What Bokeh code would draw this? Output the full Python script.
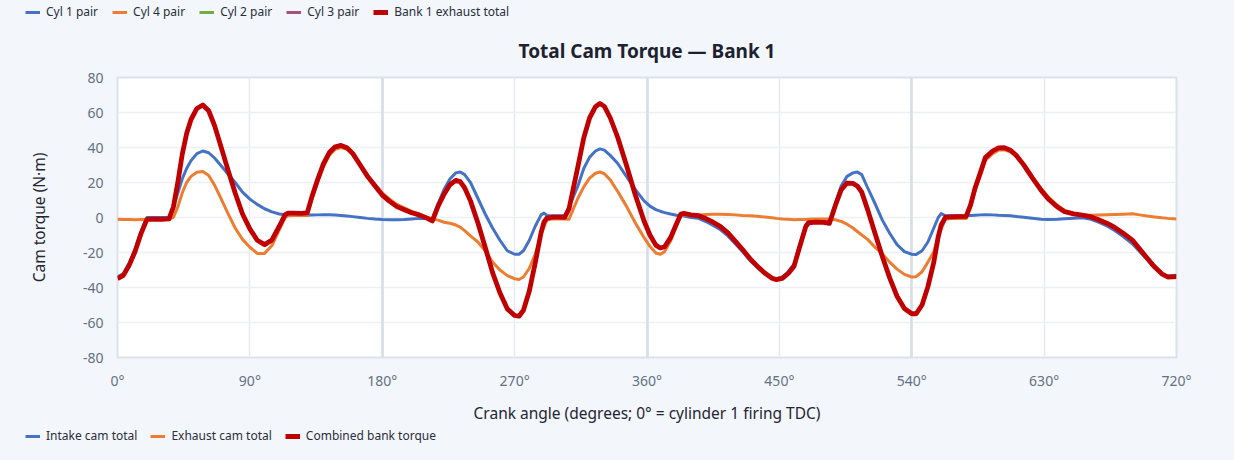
from bokeh.plotting import figure
from bokeh.layouts import column
from bokeh.models import (Range1d, FixedTicker, PrintfTickFormatter, Legend, LegendItem,
                          Grid, Title)
from bokeh.embed import file_html
from bokeh.resources import INLINE

FONT = "Noto Sans"

crank_deg = [0, 4, 8, 12, 16, 20, 25, 30, 35, 38, 41, 44, 47, 50, 54, 58, 62, 66, 70, 75,
             80, 85, 90, 95, 100, 105, 110, 114, 116, 120, 125, 129, 132, 136, 140, 144, 148,
             152, 156, 160, 165, 170, 175, 180, 185, 190, 195, 200, 205, 210, 214, 218, 222,
             226, 230, 233, 236, 240, 245, 250, 255, 260, 265, 270, 273, 276, 280, 284, 288,
             290, 292, 296, 300, 304, 307, 310, 313, 317, 321, 325, 328, 331, 335, 340, 346,
             352, 358, 362, 366, 369, 372, 376, 380, 383, 385, 390, 395, 400, 405, 410, 415,
             420, 425, 430, 435, 440, 445, 448, 452, 456, 460, 464, 468, 470, 475, 480, 484,
             488, 492, 496, 500, 503, 506, 510, 515, 520, 525, 530, 535, 540, 543, 547, 551,
             555, 558, 560, 563, 570, 577, 580, 583, 587, 590, 595, 599, 603, 607, 611, 616,
             622, 628, 633, 639, 644, 650, 656, 662, 667, 673, 678, 684, 690, 695, 700, 705,
             710, 714, 720]

intake_total = [-34, -32, -26, -18, -8, 0, 0, 0, 0, 6, 14, 22, 28, 32.5, 36.5, 38, 37, 34, 30, 25,
                20, 14.5, 10.5, 7.5, 5, 3.2, 2, 1.6, 1.5, 1.3, 1.2, 1.3, 1.4, 1.5, 1.6, 1.6, 1.4,
                1.2, 0.9, 0.5, 0, -0.5, -0.9, -1.2, -1.3, -1.3, -1.1, -0.8, -0.5, -0.5, -1.2, 8, 16,
                22, 25.5, 26, 24.5, 20, 11, 2, -6, -13, -19, -21, -21, -19, -13, -5, 1.5,
                2.5, 1.2, 1, 1, 1, 6, 12, 18, 28, 34.5, 38, 39.2, 38.5, 35.5, 31, 23.5,
                16, 9.5, 6.5, 4.5, 3.6, 2.8, 2, 1.3, 1, 0.8, 0, -0.5, -2.3, -4.5, -7, -10.5,
                -15, -19.5, -24.5, -28.5, -32, -34.5, -35, -34, -31, -26.5, -15, -4, -2, -1.8, -2, -2.5,
                8, 18, 23.5, 25.5, 26, 24.5, 17, 8, -1.5, -9, -15.5, -19.5, -21, -21.2, -19, -14,
                -6, 0, 2.2, 1, 1, 1.1, 1.2, 1.3, 1.5, 1.6, 1.5, 1.3, 1.2, 1, 0.6, 0.2,
                -0.4, -1, -1.2, -1, -0.7, -0.4, -0.2, -1, -2.7, -5, -7.4, -11, -15, -19.5, -24, -28.5,
                -32, -33.5, -33]

exhaust_total = [-1, -1.1, -1.2, -1.3, -1.2, -1.1, -1, -1, -0.8, 0, 6, 14, 20, 23.5, 25.8, 26.3, 24, 18.5, 11.5, 2.5,
                 -6, -12.5, -17, -20.5, -20.5, -16, -7, 0, 1, 1.2, 1.2, 1.3, 10, 20, 29, 35.5, 39,
                 40, 39, 36, 30, 24, 19, 14, 10.5, 7.5, 5.5, 3.5, 2, 0.3, -0.8, -1.5, -2.7,
                 -3.3, -4.3, -5.5, -7.5, -10.5, -14, -19, -25.5, -30, -33.2, -35, -35.4, -34, -29, -21, -10,
                 -5, -1.5, -0.8, -0.8, -0.9, -1, 5, 11, 17.5, 22.5, 25.3, 26, 25, 21.5, 15, 6.5,
                 -3, -11.5, -16.5, -20.3, -21, -19.5, -13.5, -5, 1, 1.5, 1.5, 1.5, 1.7, 1.8, 1.8, 1.7,
                 1.5, 1.2, 1, 0.7, 0.3, -0.2, -0.5, -0.8, -1, -1.3, -1.2, -1.1, -1, -0.9, -0.8, -0.9,
                 -1.3, -2.2, -3.8, -6, -8, -10, -12.5, -17, -20.8, -25.5, -29.5, -32.5, -34, -33.8, -31, -25.5,
                 -19.5, -11, -6.5, -0.8, -0.5, -0.5, 6, 15.4, 25, 32.6, 36.5, 38.5, 38.7, 37.5, 35, 30,
                 23, 16.5, 11.6, 7, 4, 2.5, 1.5, 1.3, 1.4, 1.6, 1.7, 1.9, 2.1, 1.5, 0.8, 0.3,
                 -0.2, -0.5, -0.8]

combined_bank = [-35, -33.1, -27.2, -19.3, -9.2, -1.1, -1, -1, -0.8, 6, 20, 36, 48, 56, 62.3, 64.3, 61, 52.5, 41.5, 27.5,
                 14, 2, -6.5, -13, -15.5, -12.8, -5, 1.6, 2.5, 2.5, 2.4, 2.6, 11.4, 21.5, 30.6, 37.1, 40.4,
                 41.2, 39.9, 36.5, 30, 23.5, 18.1, 12.8, 9.2, 6.2, 4.4, 2.7, 1.5, -0.2, -2, 6.5, 13.3,
                 18.7, 21.2, 20.5, 17, 9.5, -3, -17, -31.5, -43, -52.2, -56, -56.4, -53, -42, -26, -8.5,
                 -2.5, -0.3, 0.2, 0.2, 0.1, 5, 17, 29, 45.5, 57, 63.3, 65.2, 63.5, 57, 46, 30,
                 13, -2, -10, -15.8, -17.4, -16.7, -11.5, -3.7, 2, 2.3, 1.5, 1, -0.6, -2.7, -5.2, -8.8,
                 -13.5, -18.3, -23.5, -27.8, -31.7, -34.7, -35.5, -34.8, -32, -27.8, -16.2, -5.1, -3, -2.7, -2.8, -3.4,
                 6.7, 15.8, 19.7, 19.5, 18, 14.5, 4.5, -9, -22.3, -34.5, -45, -52, -55, -55, -50, -39.5,
                 -25.5, -11, -4.3, 0.2, 0.5, 0.6, 7.2, 16.7, 26.5, 34.2, 38, 39.8, 39.9, 38.5, 35.6, 30.2,
                 22.6, 15.5, 10.4, 6, 3.3, 2.1, 1.3, 0.3, -1.3, -3.4, -5.7, -9.1, -12.9, -18, -23.2, -28.2,
                 -32.2, -34, -33.8]

x_ticks = [0, 90, 180, 270, 360, 450, 540, 630, 720]
x_major_lines = [180, 360, 540]
y_ticks = [-80, -60, -40, -20, 0, 20, 40, 60, 80]

top_legend_labels = ["Cyl 1 pair", "Cyl 4 pair", "Cyl 2 pair", "Cyl 3 pair", "Bank 1 exhaust total"]
top_legend_colors = ["#4472C4", "#ED7D31", "#70AD47", "#A5507D", "#C00000"]
bottom_legend_labels = ["Intake cam total", "Exhaust cam total", "Combined bank torque"]
bottom_legend_colors = ["#4472C4", "#ED7D31", "#C00000"]

BG = "#f3f6fa"
W = 1234

# ---------------- main chart ----------------
p = figure(width=W, height=406, output_backend="svg", toolbar_location=None,
           x_range=Range1d(0, 720), y_range=Range1d(-80, 80),
           min_border_left=117, min_border_right=58, min_border_top=57, min_border_bottom=69,
           title=None)
p.border_fill_color = BG
p.background_fill_color = "white"
p.outline_line_color = "#dbe2eb"
p.outline_line_width = 2

p.xaxis.ticker = FixedTicker(ticks=x_ticks)
p.xaxis.formatter = PrintfTickFormatter(format="%d\u00b0")
p.yaxis.ticker = FixedTicker(ticks=y_ticks)
p.yaxis.formatter = PrintfTickFormatter(format="%d")
for ax in (p.xaxis[0], p.yaxis[0]):
    ax.axis_line_color = None
    ax.major_tick_line_color = None
    ax.minor_tick_line_color = None
    ax.major_label_text_font = FONT
    ax.major_label_text_font_size = "14px"
    ax.major_label_text_color = "#647183"
    ax.axis_label_text_font = FONT
    ax.axis_label_text_font_size = "15.5px"
    ax.axis_label_text_font_style = "normal"
    ax.axis_label_text_color = "#1f2633"
p.xaxis.axis_label = "Crank angle (degrees; 0\u00b0 = cylinder 1 firing TDC)"
p.yaxis.axis_label = "Cam torque (N\u00b7m)"
p.xaxis.major_label_standoff = 7
p.xaxis.axis_label_standoff = 9
p.yaxis.major_label_standoff = 8
p.yaxis.axis_label_standoff = 30

p.xgrid.grid_line_color = "#e6eaf0"
p.xgrid.grid_line_width = 1.5
p.ygrid.grid_line_color = "#edf0f4"
p.ygrid.grid_line_width = 1.5
g2 = Grid(dimension=0, ticker=FixedTicker(ticks=x_major_lines),
          grid_line_color="#d6dde7", grid_line_width=2.5)
p.add_layout(g2)

t = Title(text="Total Cam Torque \u2014 Bank 1", align="center", text_font=FONT,
          text_font_size="19px", text_font_style="bold", text_color="#1c2230", standoff=27)
p.add_layout(t, "above")

p.line(crank_deg, intake_total, line_color="#4472C4", line_width=3, line_join="round")
p.line(crank_deg, exhaust_total, line_color="#ED7D31", line_width=3, line_join="round")
p.line(crank_deg, combined_bank, line_color="#C00000", line_width=4.8, line_join="round")


# ---------------- legend strips ----------------
def legend_strip(labels, colors, h, y, gap):
    s = figure(width=W, height=h, output_backend="svg", toolbar_location=None,
               x_range=Range1d(0, 720), y_range=Range1d(1000, 1001),
               x_axis_type=None, y_axis_type=None, min_border=0, title=None)
    s.border_fill_color = BG
    s.background_fill_color = BG
    s.outline_line_color = None
    s.grid.visible = False
    items = []
    for lab, col in zip(labels, colors):
        thick = col == "#C00000"
        r = s.line(crank_deg, combined_bank, line_color=col, line_width=5 if thick else 3)
        items.append(LegendItem(label=lab, renderers=[r]))
    lg = Legend(items=items, location=(25, y), orientation="horizontal")
    lg.label_text_font = FONT
    lg.label_text_font_size = "12px"
    lg.label_text_color = "#2a2f3a"
    lg.glyph_width = 15
    lg.glyph_height = 14
    lg.label_height = 14
    lg.label_standoff = 6
    lg.spacing = gap
    lg.padding = 0
    lg.margin = 0
    lg.border_line_alpha = 0
    lg.background_fill_alpha = 0
    s.add_layout(lg, "center")
    return s


top_strip = legend_strip(top_legend_labels, top_legend_colors, 20, 0, 14)
bottom_strip = legend_strip(bottom_legend_labels, bottom_legend_colors, 20, 2, 13)

layout = column(column(top_strip), p, column(bottom_strip), spacing=0)
layout.styles = {"background-color": BG}

html = file_html(layout, INLINE)
html = html.replace("<head>", "<head><style>html,body{background:%s;}</style>" % BG, 1)
open("out.html", "w").write(html)
